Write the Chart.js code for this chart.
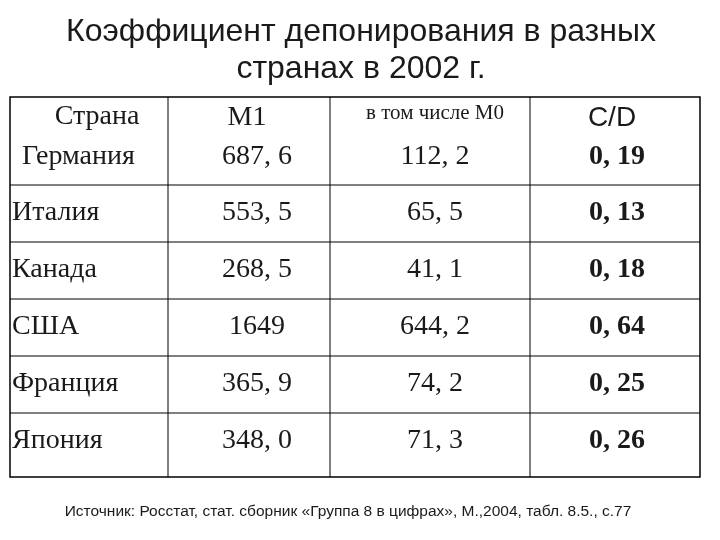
<!DOCTYPE html><html><head><meta charset="utf-8">
<script src="https://cdn.jsdelivr.net/npm/chart.js@4"></script>
<style>html,body{margin:0;background:#fff}#w{width:720px;height:540px}</style></head><body>
<div id="w"><canvas id="c"></canvas></div>
<script>
const titleLines = ["Коэффициент депонирования в разных", "странах в 2002 г."];
const headers = ["Страна", "М1", "в том числе М0", "C/D"];
const countries = ["Германия", "Италия", "Канада", "США", "Франция", "Япония"];
const m1 = ["687, 6", "553, 5", "268, 5", "1649", "365, 9", "348, 0"];
const m0 = ["112, 2", "65, 5", "41, 1", "644, 2", "74, 2", "71, 3"];
const cd = ["0, 19", "0, 13", "0, 18", "0, 64", "0, 25", "0, 26"];
const source = "Источник: Росстат, стат. сборник «Группа 8 в цифрах», М.,2004, табл. 8.5., с.77";
// layout grid (table units)
const colLines = [0, 158, 320, 520, 690];
const rowLines = [0, 88, 145, 202, 259, 316, 380];
const rowText = [60, 116, 173, 230, 287, 344];
const headText = [20, 21, 16, 21];
const colCenter = [79, 237, 425, 602];

const tablePlugin = {
  id: 'tbl',
  afterDraw(ch) {
    const c = ch.ctx, x = ch.scales.x, y = ch.scales.y;
    c.save();
    c.fillStyle = '#1a1a1a'; c.textAlign = 'center'; c.textBaseline = 'middle';
    c.font = '32px "Liberation Sans", Arial';
    c.fillText(titleLines[0], 361, 32); c.fillText(titleLines[1], 361, 69);
    c.strokeStyle = '#000'; c.lineWidth = 1.5;
    c.strokeRect(x.getPixelForValue(0), y.getPixelForValue(0), x.getPixelForValue(690) - x.getPixelForValue(0), y.getPixelForValue(380) - y.getPixelForValue(0));
    c.lineWidth = 1;
    colLines.slice(1, -1).forEach(v => { c.beginPath(); c.moveTo(x.getPixelForValue(v), y.getPixelForValue(0)); c.lineTo(x.getPixelForValue(v), y.getPixelForValue(380)); c.stroke(); });
    rowLines.slice(1, -1).forEach(v => { c.beginPath(); c.moveTo(x.getPixelForValue(0), y.getPixelForValue(v)); c.lineTo(x.getPixelForValue(690), y.getPixelForValue(v)); c.stroke(); });
    const hf = ['28px "Liberation Serif"', '28px "Liberation Serif"', '21px "Liberation Serif"', '28px "Liberation Sans"'];
    headers.forEach((h, i) => { c.font = hf[i]; c.fillText(h, x.getPixelForValue(colCenter[i] + (i === 0 ? 8 : 0)), y.getPixelForValue(headText[i])); });
    countries.forEach((n, r) => {
      const py = y.getPixelForValue(rowText[r]);
      c.font = '28px "Liberation Serif"'; c.textAlign = 'left';
      c.fillText(n, x.getPixelForValue(r === 0 ? 12 : 2), py);
      c.textAlign = 'center';
      c.fillText(m1[r], x.getPixelForValue(colCenter[1] + 10), py);
      c.fillText(m0[r], x.getPixelForValue(colCenter[2]), py);
      c.font = 'bold 28px "Liberation Serif"';
      c.fillText(cd[r], x.getPixelForValue(colCenter[3] + 5), py);
    });
    c.font = '15.5px "Liberation Sans", Arial';
    c.fillText(source, 348, 512);
    c.restore();
  }
};
new Chart(document.getElementById('c'), {
  type: 'scatter',
  data: { datasets: [{ data: [] }] },
  options: {
    animation: false, responsive: true, maintainAspectRatio: false,
    layout: { padding: { top: 97, left: 10, right: 20, bottom: 63 } },
    plugins: { legend: { display: false }, tooltip: { enabled: false } },
    scales: {
      x: { type: 'linear', min: 0, max: 690, display: false },
      y: { type: 'linear', min: 0, max: 380, reverse: true, display: false }
    }
  },
  plugins: [tablePlugin]
});
</script></body></html>
